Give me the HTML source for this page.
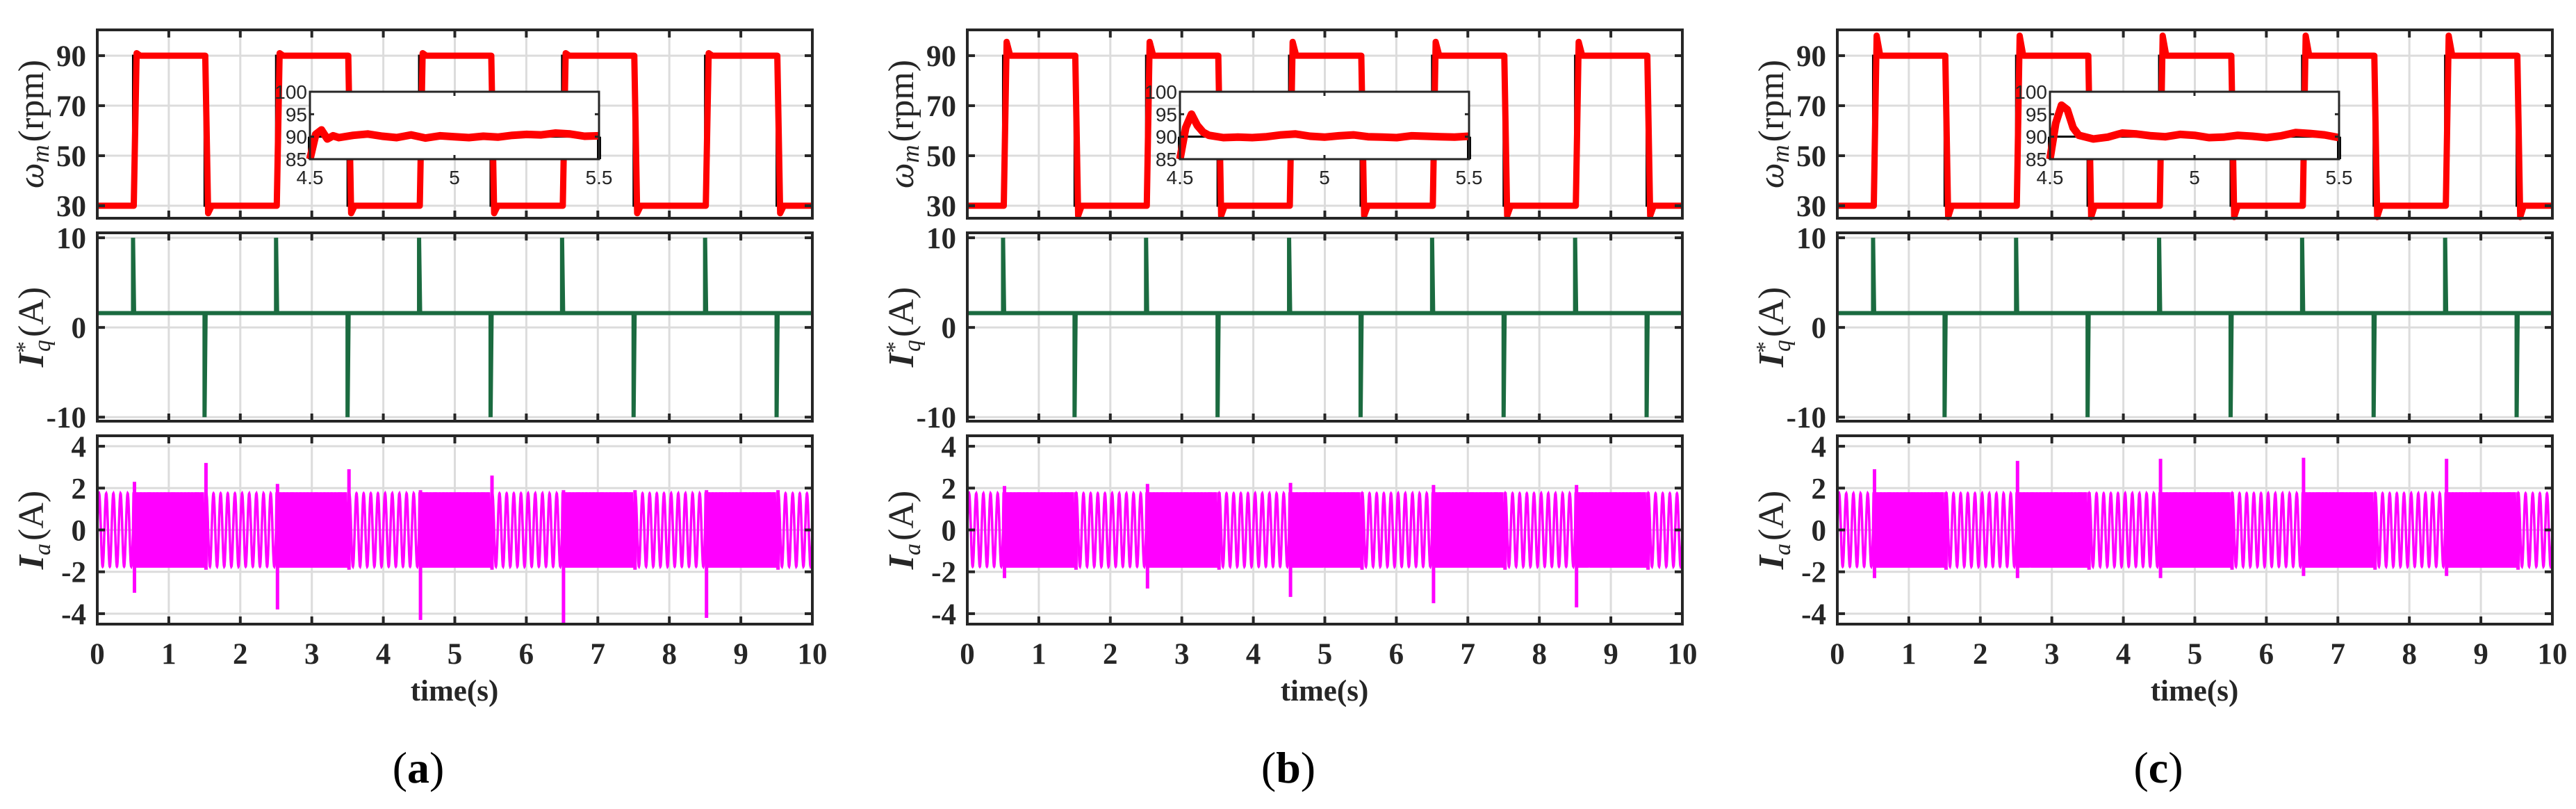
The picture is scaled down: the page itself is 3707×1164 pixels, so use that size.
<!DOCTYPE html>
<html><head><meta charset="utf-8">
<style>
html,body{margin:0;padding:0;background:#fff;}
svg{display:block;}
.tk{font-family:"Liberation Serif",serif;font-weight:bold;font-size:43px;fill:#262626;}
.it{font-family:"Liberation Sans",sans-serif;font-size:28px;fill:#262626;}
.ttl{font-family:"Liberation Serif",serif;font-size:52px;fill:#262626;}
</style></head>
<body>
<svg id="fig" xmlns="http://www.w3.org/2000/svg" width="3707" height="1164" viewBox="0 0 3707 1164"></svg>
<script>
// ---- data ----
const panelLabels = ['a','b','c'];
const panelOffsets = [0, 1252, 2504];
const switchTimes = [0.5,1.5,2.5,3.5,4.5,5.5,6.5,7.5,8.5,9.5];
const speedLow = 30, speedHigh = 90;
const riseOvershoot = [91, 95.5, 98];      // peak speed after rising step
const fallUndershoot = [27, 26, 25.5];     // min speed after falling step
const iqLevel = 1.6, iqSpikeHigh = 10, iqSpikeLow = -10;
const iaAmpLow = 1.75, iaAmpHigh = 1.8, iaFreqLow = 10, iaFreqHigh = 30;
const iaSpikeUp = [[2.3,3.2,2.2,2.9,1.9,2.6,1.9,1.9,1.9,1.9],[2.1,1.8,2.2,1.8,2.25,1.8,2.15,1.8,2.15,1.8],[2.9,1.8,3.3,1.8,3.4,1.8,3.45,1.8,3.4,1.8]];
const iaSpikeDown = [[-3.0,-1.9,-3.8,-1.9,-4.3,-1.9,-4.5,-1.9,-4.2,-1.9],[-2.3,-1.9,-2.8,-1.9,-3.2,-1.9,-3.5,-1.9,-3.7,-1.9],[-2.3,-1.9,-2.3,-1.9,-2.3,-1.9,-2.2,-1.9,-2.2,-1.9]];
const insetTimes = [4.5,4.52,4.54,4.56,4.58,4.6,4.65,4.7,4.75,4.8,4.85,4.9,4.95,5.0,5.05,5.1,5.15,5.2,5.25,5.3,5.35,5.4,5.45,5.5];
const insetSpeed = [
 [85,90.5,91.5,89.5,90.2,89.8,90.3,90.6,90.1,89.8,90.4,89.7,90.2,90.0,89.8,90.1,89.9,90.3,90.5,90.4,90.8,90.6,90.1,90.2],
 [85,92,95,92.5,91,90.3,89.8,89.9,89.8,90.0,90.4,90.6,90.1,89.9,90.2,90.4,90.0,89.9,89.8,90.2,90.1,90.0,89.9,90.1],
 [85,93,97,96,92,90.3,89.5,89.9,90.8,90.6,90.2,90.0,90.5,90.3,89.8,89.9,90.3,90.1,89.8,90.2,90.9,90.7,90.4,89.8]];
const xTicks = [0,1,2,3,4,5,6,7,8,9,10];
const speedTicks = [30,50,70,90];
const iqTicks = [-10,0,10];
const iaTicks = [-4,-2,0,2,4];
const insetYTicks = [85,90,95,100];
const insetXTicks = [4.5,5,5.5];

// ---- helpers ----
const NS='http://www.w3.org/2000/svg';
const svg=document.getElementById('fig');
function mk(tag,attrs,parent){const e=document.createElementNS(NS,tag);for(const k in attrs)e.setAttribute(k,attrs[k]);(parent||svg).appendChild(e);return e;}
const X0=140, XW=1029;
const axesBoxes=[{top:43,bot:314,min:25,max:100.3},{top:335,bot:606,min:-10.45,max:10.55},{top:627,bot:898,min:-4.5,max:4.5}];

panelLabels.forEach((lab,p)=>{
  const ox=panelOffsets[p];
  const g=mk('g',{});
  
  
  const sx=t=>ox+X0+t/10*XW;
  axesBoxes.forEach((b,ai)=>{
    const sy=v=>b.bot-(v-b.min)/(b.max-b.min)*(b.bot-b.top);
    const ag=mk('g',{},g);
    
    
    const ticks=[speedTicks,iqTicks,iaTicks][ai];
    xTicks.forEach(t=>{const l=mk('line',{x1:sx(t),x2:sx(t),y1:b.top,y2:b.bot,stroke:'#dcdcdc','stroke-width':3},ag);});
    ticks.forEach(v=>{const l=mk('line',{x1:sx(0),x2:sx(10),y1:sy(v),y2:sy(v),stroke:'#dcdcdc','stroke-width':3},ag);});
    const cg=mk('g',{},ag);
    if(ai===0){
      let d='M'+sx(0)+','+sy(speedLow);
      switchTimes.forEach((t,i)=>{const from=i%2===0?speedLow:speedHigh,to=i%2===0?speedHigh:speedLow;d+=' L'+sx(t)+','+sy(from)+' L'+sx(t)+','+sy(to);});
      d+=' L'+sx(10)+','+sy(speedLow);
      const r=mk('path',{d:d,fill:'none',stroke:'#000','stroke-width':3},cg);
      
      let d2='M'+sx(0)+','+sy(speedLow);
      switchTimes.forEach((t,i)=>{
        const rising=i%2===0;
        const from=rising?speedLow:speedHigh,to=rising?speedHigh:speedLow;
        const pk=rising?riseOvershoot[p]:fallUndershoot[p];
        d2+=' L'+sx(t+0.01)+','+sy(from)+' L'+sx(t+0.05)+','+sy(pk)+' L'+sx(t+0.1)+','+sy(to);
      });
      d2+=' L'+sx(10)+','+sy(speedLow);
      const s=mk('path',{d:d2,fill:'none',stroke:'#ff0000','stroke-width':9,'stroke-linejoin':'round'},cg);
      
    } else if(ai===1){
      let d='M'+sx(0)+','+sy(iqLevel);
      switchTimes.forEach((t,i)=>{const pk=i%2===0?iqSpikeHigh:iqSpikeLow;d+=' L'+sx(t)+','+sy(iqLevel)+' L'+sx(t)+','+sy(pk)+' L'+sx(t+0.015)+','+sy(iqLevel);});
      d+=' L'+sx(10)+','+sy(iqLevel);
      const s=mk('path',{d:d,fill:'none',stroke:'#1b6b40','stroke-width':6},cg);
      
    } else {
      let d='';const N=6000;
      const bounds=[0].concat(switchTimes).concat([10]);
      for(let k=0;k<=N;k++){
        const t=k/N*10;let seg=0;
        while(seg<bounds.length-2&&t>=bounds[seg+1])seg++;
        const high=seg%2===1;
        const v=(high?iaAmpHigh:iaAmpLow)*Math.sin(2*Math.PI*(high?iaFreqHigh:iaFreqLow)*t);
        d+=(k?' L':'M')+sx(t).toFixed(1)+','+sy(v).toFixed(1);
      }
      const s=mk('path',{d:d,fill:'none',stroke:'#ff00ff','stroke-width':3.5},cg);
      
      switchTimes.forEach((t,i)=>{
        const l=mk('line',{x1:sx(t+0.02),x2:sx(t+0.02),y1:sy(iaSpikeUp[p][i]),y2:sy(iaSpikeDown[p][i]),stroke:'#ff00ff','stroke-width':5},cg);
        
      });
    }
    const fr=mk('rect',{x:sx(0),y:b.top,width:XW,height:b.bot-b.top,fill:'none',stroke:'#262626','stroke-width':4},ag);
    
    xTicks.forEach(t=>{mk('line',{x1:sx(t),x2:sx(t),y1:b.top,y2:b.top+11,stroke:'#262626','stroke-width':4},ag);mk('line',{x1:sx(t),x2:sx(t),y1:b.bot,y2:b.bot-11,stroke:'#262626','stroke-width':4},ag);});
    ticks.forEach(v=>{
      mk('line',{x1:sx(0),x2:sx(0)+11,y1:sy(v),y2:sy(v),stroke:'#262626','stroke-width':4},ag);
      mk('line',{x1:sx(10),x2:sx(10)-11,y1:sy(v),y2:sy(v),stroke:'#262626','stroke-width':4},ag);
      const tx=mk('text',{x:ox+124,y:sy(v)+15,'text-anchor':'end',class:'tk'},ag);tx.textContent=String(v);
      
    });
    const cy=(b.top+b.bot)/2;
    const tt=mk('text',{x:0,y:0,transform:'translate('+(ox+62)+','+cy+') rotate(-90)','text-anchor':'middle',class:'ttl'},ag);
    
    if(ai===0) tt.innerHTML='<tspan font-style="italic">ω</tspan><tspan font-style="italic" font-size="36" dy="8">m</tspan><tspan dy="-8" dx="4">(rpm)</tspan>';
    else if(ai===1) tt.innerHTML='<tspan font-style="italic" font-weight="bold">I</tspan><tspan font-size="34" dy="-16">*</tspan><tspan font-style="italic" font-size="34" dx="-15" dy="26">q</tspan><tspan dy="-10" dx="4">(A)</tspan>';
    else tt.innerHTML='<tspan font-style="italic" font-weight="bold">I</tspan><tspan font-style="italic" font-size="34" dy="10">a</tspan><tspan dy="-10" dx="4">(A)</tspan>';
  });
  xTicks.forEach(t=>{const tx=mk('text',{x:sx(t),y:955,'text-anchor':'middle',class:'tk'},g);tx.textContent=String(t);});
  const xt=mk('text',{x:ox+654,y:1008,'text-anchor':'middle',class:'tk','font-size':'42'},g);xt.textContent='time(s)';
  
  const pl=mk('text',{x:ox+602,y:1126,'text-anchor':'middle','font-family':'Liberation Serif, serif','font-size':'64',fill:'#000'},g);
  pl.innerHTML='(<tspan font-weight="bold">'+lab+'</tspan>)';
  
  const ig=mk('g',{},g);
  
  const IL=ox+446,IR=ox+862,IT=132,IB=229;
  const ix=t=>IL+(t-4.5)/1*(IR-IL), iy=v=>IB-(v-85)/15*(IB-IT);
  mk('rect',{x:IL,y:IT,width:IR-IL,height:IB-IT,fill:'#fff'},ig);
  mk('line',{x1:IL,x2:IL,y1:iy(90),y2:IB,stroke:'#000','stroke-width':6},ig);
  mk('line',{x1:IR,x2:IR,y1:iy(90),y2:IB,stroke:'#000','stroke-width':6},ig);
  mk('line',{x1:IL,x2:IR,y1:iy(90),y2:iy(90),stroke:'#000','stroke-width':3},ig);
  let di='';insetTimes.forEach((t,i)=>{di+=(i?' L':'M')+ix(t).toFixed(1)+','+iy(insetSpeed[p][i]).toFixed(1);});
  const ip=mk('path',{d:di,fill:'none',stroke:'#ff0000','stroke-width':11,'stroke-linejoin':'round'},ig);
  
  mk('rect',{x:IL,y:IT,width:IR-IL,height:IB-IT,fill:'none',stroke:'#262626','stroke-width':3},ig);
  insetYTicks.forEach(v=>{
    mk('line',{x1:IL,x2:IL+6,y1:iy(v),y2:iy(v),stroke:'#262626','stroke-width':3},ig);
    mk('line',{x1:IR,x2:IR-6,y1:iy(v),y2:iy(v),stroke:'#262626','stroke-width':3},ig);
    const tx=mk('text',{x:IL-4,y:iy(v)+10,'text-anchor':'end',class:'it'},ig);tx.textContent=String(v);
    
  });
  insetXTicks.forEach(t=>{
    mk('line',{x1:ix(t),x2:ix(t),y1:IT,y2:IT+6,stroke:'#262626','stroke-width':3},ig);
    mk('line',{x1:ix(t),x2:ix(t),y1:IB,y2:IB-6,stroke:'#262626','stroke-width':3},ig);
    const tx=mk('text',{x:ix(t),y:265,'text-anchor':'middle',class:'it'},ig);tx.textContent=String(t);
    
  });
});
</script>
</body></html>
